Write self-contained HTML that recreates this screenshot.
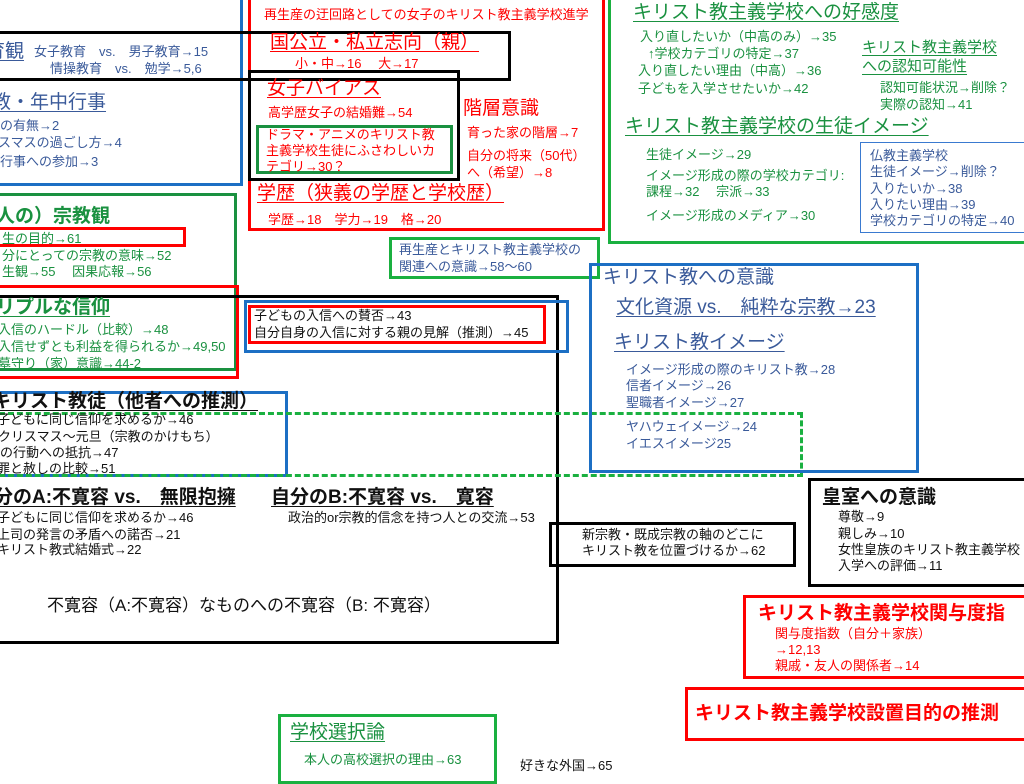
<!DOCTYPE html>
<html><head><meta charset="utf-8"><style>
body{margin:0;width:1024px;height:769px;overflow:hidden;background:#fff;position:relative;font-family:"Liberation Sans","Noto Sans CJK JP",sans-serif}
.b{position:absolute;box-sizing:border-box;border-style:solid;border-width:3px}
.t{position:absolute;white-space:nowrap;line-height:1;font-size:13px}
.h{font-size:19px}
.u{text-decoration:underline;text-decoration-thickness:1px;text-underline-offset:3px}
.R{color:#f00}.G{color:#1a9140}.B{color:#3a5a9a}.K{color:#111}
.bo{font-weight:bold}
</style></head><body>
<div class="b" style="left:-10px;top:-10px;width:253px;height:196px;border-color:#1c6fc4"></div>
<div class="b" style="left:248px;top:-10px;width:357px;height:241px;border-color:#f00"></div>
<div class="b" style="left:-10px;top:31px;width:521px;height:50px;border-color:#000"></div>
<div class="b" style="left:248px;top:70px;width:212px;height:111px;border-color:#000"></div>
<div class="b" style="left:256px;top:125px;width:197px;height:49px;border-color:#1a9140"></div>
<div class="b" style="left:389px;top:237px;width:211px;height:42px;border-color:#1ab040"></div>
<div class="b" style="left:608px;top:-10px;width:430px;height:254px;border-color:#1ab040"></div>
<div class="b" style="left:860px;top:142px;width:180px;height:91px;border-width:1px;border-color:#3a7ad0"></div>
<div class="b" style="left:-10px;top:193px;width:247px;height:178px;border-color:#1a9140"></div>
<div class="b" style="left:-10px;top:227px;width:196px;height:20px;border-color:#f00"></div>
<div class="b" style="left:-10px;top:285px;width:249px;height:94px;border-color:#f00"></div>
<div class="b" style="left:-10px;top:295px;width:569px;height:349px;border-color:#000"></div>
<div class="b" style="left:244px;top:300px;width:325px;height:53px;border-color:#1c6fc4"></div>
<div class="b" style="left:248px;top:305px;width:298px;height:39px;border-color:#f00"></div>
<div class="b" style="left:-10px;top:391px;width:298px;height:86px;border-color:#1c6fc4"></div>
<div class="b" style="left:-10px;top:412px;width:813px;height:65px;border-style:dashed;border-color:#1ab040"></div>
<div class="b" style="left:589px;top:263px;width:330px;height:210px;border-color:#1c6fc4"></div>
<div class="b" style="left:549px;top:522px;width:247px;height:45px;border-color:#000"></div>
<div class="b" style="left:808px;top:478px;width:230px;height:109px;border-color:#000"></div>
<div class="b" style="left:743px;top:595px;width:295px;height:84px;border-color:#f00"></div>
<div class="b" style="left:685px;top:687px;width:353px;height:54px;border-color:#f00"></div>
<div class="b" style="left:278px;top:714px;width:219px;height:70px;border-color:#1ab040"></div>

<div class="t R" style="left:264px;top:8px">再生産の迂回路としての女子のキリスト教主義学校進学</div>
<div class="t h R u" style="left:270px;top:33px">国公立・私立志向（親）</div>
<div class="t R" style="left:295px;top:57px">小・中→16　 大→17</div>
<div class="t h R u" style="left:267px;top:79px">女子バイアス</div>
<div class="t R" style="left:268px;top:106px">高学歴女子の結婚難→54</div>
<div class="t R" style="left:266px;top:127px;line-height:16px">ドラマ・アニメのキリスト教<br>主義学校生徒にふさわしいカ<br>テゴリ→30？</div>
<div class="t h R" style="left:463px;top:99px">階層意識</div>
<div class="t R" style="left:467px;top:126px">育った家の階層→7</div>
<div class="t R" style="left:467px;top:147px;line-height:17px">自分の将来（50代）<br>へ（希望）→8</div>
<div class="t h R u" style="left:257px;top:184px">学歴（狭義の学歴と学校歴）</div>
<div class="t R" style="left:268px;top:213px">学歴→18　学力→19　格→20</div>

<div class="t h B u" style="left:-14px;top:42px">育観</div>
<div class="t B" style="left:34px;top:45px">女子教育　vs.　男子教育→15</div>
<div class="t B" style="left:50px;top:62px">情操教育　vs.　勉学→5,6</div>
<div class="t h B u" style="left:-8px;top:93px">教・年中行事</div>
<div class="t B" style="left:0px;top:119px">の有無→2</div>
<div class="t B" style="left:-2px;top:136px">スマスの過ごし方→4</div>
<div class="t B" style="left:0px;top:155px">行事への参加→3</div>

<div class="t h G bo" style="left:-4px;top:207px">人の）宗教観</div>
<div class="t G" style="left:2px;top:232px">生の目的→61</div>
<div class="t G" style="left:2px;top:249px">分にとっての宗教の意味→52</div>
<div class="t G" style="left:2px;top:265px">生観→55　 因果応報→56</div>
<div class="t h G bo u" style="left:-4px;top:298px">リプルな信仰</div>
<div class="t G" style="left:-2px;top:323px">入信のハードル（比較）→48</div>
<div class="t G" style="left:-2px;top:340px">入信せずとも利益を得られるか→49,50</div>
<div class="t G" style="left:-2px;top:357px">墓守り（家）意識→44-2</div>

<div class="t K" style="left:254px;top:309px">子どもの入信への賛否→43</div>
<div class="t K" style="left:254px;top:326px">自分自身の入信に対する親の見解（推測）→45</div>
<div class="t h K bo u" style="left:-8px;top:392px">キリスト教徒（他者への推測）</div>
<div class="t K" style="left:-3px;top:413px">子どもに同じ信仰を求めるか→46</div>
<div class="t K" style="left:-2px;top:430px">クリスマス～元旦（宗教のかけもち）</div>
<div class="t K" style="left:0px;top:446px">の行動への抵抗→47</div>
<div class="t K" style="left:-3px;top:462px">罪と赦しの比較→51</div>
<div class="t h K bo u" style="left:-6px;top:488px">分のA:不寛容 vs.　無限抱擁</div>
<div class="t h K bo u" style="left:271px;top:488px">自分のB:不寛容 vs.　寛容</div>
<div class="t K" style="left:-3px;top:511px">子どもに同じ信仰を求めるか→46</div>
<div class="t K" style="left:-3px;top:528px">上司の発言の矛盾への諾否→21</div>
<div class="t K" style="left:-3px;top:543px">キリスト教式結婚式→22</div>
<div class="t K" style="left:288px;top:511px">政治的or宗教的信念を持つ人との交流→53</div>
<div class="t K" style="left:47px;top:597px;font-size:17px">不寛容（A:不寛容）なものへの不寛容（B: 不寛容）</div>

<div class="t h G u" style="left:633px;top:3px">キリスト教主義学校への好感度</div>
<div class="t G" style="left:640px;top:30px">入り直したいか（中高のみ）→35</div>
<div class="t G" style="left:648px;top:47px">↑学校カテゴリの特定→37</div>
<div class="t G" style="left:638px;top:64px">入り直したい理由（中高）→36</div>
<div class="t G" style="left:638px;top:82px">子どもを入学させたいか→42</div>
<div class="t G u" style="left:862px;top:38px;font-size:15px;line-height:19px">キリスト教主義学校<br>への認知可能性</div>
<div class="t G" style="left:880px;top:81px">認知可能状況→削除？</div>
<div class="t G" style="left:880px;top:98px">実際の認知→41</div>
<div class="t h G u" style="left:625px;top:117px">キリスト教主義学校の生徒イメージ</div>
<div class="t G" style="left:646px;top:148px">生徒イメージ→29</div>
<div class="t G" style="left:646px;top:169px">イメージ形成の際の学校カテゴリ:</div>
<div class="t G" style="left:646px;top:185px">課程→32　 宗派→33</div>
<div class="t G" style="left:646px;top:209px">イメージ形成のメディア→30</div>
<div class="t B" style="left:870px;top:148px;line-height:16.3px">仏教主義学校<br>生徒イメージ→削除？<br>入りたいか→38<br>入りたい理由→39<br>学校カテゴリの特定→40</div>
<div class="t B" style="left:399px;top:241px;line-height:17px">再生産とキリスト教主義学校の<br>関連への意識→58～60</div>

<div class="t h B" style="left:603px;top:268px">キリスト教への意識</div>
<div class="t h B u" style="left:616px;top:298px">文化資源 vs.　純粋な宗教→23</div>
<div class="t h B u" style="left:614px;top:333px">キリスト教イメージ</div>
<div class="t B" style="left:626px;top:363px">イメージ形成の際のキリスト教→28</div>
<div class="t B" style="left:626px;top:379px">信者イメージ→26</div>
<div class="t B" style="left:626px;top:396px">聖職者イメージ→27</div>
<div class="t B" style="left:626px;top:420px">ヤハウェイメージ→24</div>
<div class="t B" style="left:626px;top:437px">イエスイメージ25</div>

<div class="t K" style="left:582px;top:528px">新宗教・既成宗教の軸のどこに</div>
<div class="t K" style="left:582px;top:544px">キリスト教を位置づけるか→62</div>
<div class="t h K bo" style="left:822px;top:488px">皇室への意識</div>
<div class="t K" style="left:838px;top:510px">尊敬→9</div>
<div class="t K" style="left:838px;top:527px">親しみ→10</div>
<div class="t K" style="left:838px;top:543px">女性皇族のキリスト教主義学校</div>
<div class="t K" style="left:838px;top:559px">入学への評価→11</div>

<div class="t h R bo" style="left:758px;top:604px">キリスト教主義学校関与度指</div>
<div class="t R" style="left:775px;top:627px">関与度指数（自分＋家族）</div>
<div class="t R" style="left:775px;top:643px">→12,13</div>
<div class="t R" style="left:775px;top:659px">親戚・友人の関係者→14</div>
<div class="t h R bo" style="left:695px;top:704px">キリスト教主義学校設置目的の推測</div>

<div class="t h G u" style="left:290px;top:723px">学校選択論</div>
<div class="t G" style="left:304px;top:753px">本人の高校選択の理由→63</div>
<div class="t K" style="left:520px;top:759px">好きな外国→65</div>
</body></html>
